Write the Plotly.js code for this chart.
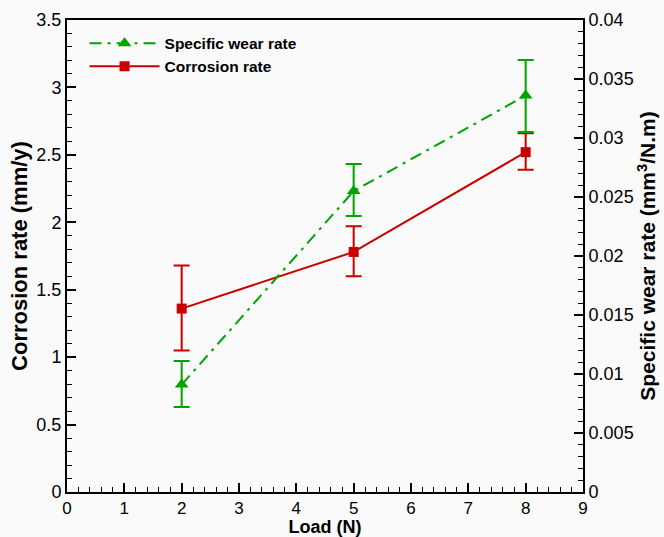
<!DOCTYPE html>
<html>
<head>
<meta charset="utf-8">
<script src="https://cdn.plot.ly/plotly-3.0.1.min.js"></script>
<style>body{margin:0;padding:0;background:#fafafa;}</style>
</head>
<body>
<div id="chart" style="width:664px;height:537px;"></div>
<script>
// Data
const load = [2, 5, 8];
const corrosionRate = [1.36, 1.78, 2.52];
const corrosionErrPlus = [0.32, 0.19, 0.14];
const corrosionErrMinus = [0.31, 0.18, 0.13];
const wearRate = [0.0091, 0.0255, 0.0336];
const wearErrPlus = [0.0020, 0.0023, 0.0030];
const wearErrMinus = [0.0019, 0.0021, 0.0031];

const green = '#00a300';
const red = '#c80000';
const fontFam = 'Liberation Sans, Arial, sans-serif';

const traces = [
  {
    x: load, y: wearRate, yaxis: 'y2', name: 'Specific wear rate',
    type: 'scatter', mode: 'lines+markers',
    line: {color: green, width: 2, dash: '12px,6px,3px,6px'},
    marker: {symbol: 'triangle-up', size: 12, color: green},
    error_y: {type: 'data', symmetric: false, array: wearErrPlus, arrayminus: wearErrMinus,
              color: green, thickness: 2, width: 8}
  },
  {
    x: load, y: corrosionRate, yaxis: 'y', name: 'Corrosion rate',
    type: 'scatter', mode: 'lines+markers',
    line: {color: red, width: 2},
    marker: {symbol: 'square', size: 10, color: red},
    error_y: {type: 'data', symmetric: false, array: corrosionErrPlus, arrayminus: corrosionErrMinus,
              color: red, thickness: 2, width: 8}
  }
];

const layout = {
  width: 664, height: 537,
  paper_bgcolor: '#fafafa', plot_bgcolor: '#fafafa',
  margin: {l: 67, r: 81, t: 20, b: 45},
  font: {family: fontFam, color: '#000', size: 18},
  showlegend: true,
  legend: {x: 0.034, y: 0.986, xanchor: 'left', yanchor: 'top', bgcolor: 'rgba(0,0,0,0)',
           font: {family: fontFam, size: 15.5, color: '#000', weight: 'bold'},
           itemwidth: 70, tracegroupgap: 0, traceorder: 'normal'},
  xaxis: {
    range: [0, 9], dtick: 1, tick0: 0,
    ticks: 'inside', ticklen: 9, tickwidth: 2, tickcolor: '#000',
    showline: true, linecolor: '#000', linewidth: 2, mirror: true,
    showgrid: false, zeroline: false,
    tickfont: {size: 17, family: fontFam},
    minor: {dtick: 0.2, ticks: 'inside', ticklen: 5, tickwidth: 1, tickcolor: '#000', showgrid: false},
    title: {text: '<b>Load (N)</b>', font: {size: 18, family: fontFam}, standoff: 6}
  },
  yaxis: {
    range: [0, 3.5], dtick: 0.5, tick0: 0,
    ticks: 'inside', ticklen: 9, tickwidth: 2, tickcolor: '#000',
    showline: true, linecolor: '#000', linewidth: 2,
    showgrid: false, zeroline: false,
    tickfont: {size: 18, family: fontFam},
    minor: {dtick: 0.1, ticks: 'inside', ticklen: 5, tickwidth: 1, tickcolor: '#000', showgrid: false},
    title: {text: '<b>Corrosion rate (mm/y)</b>', font: {size: 22, family: fontFam}, standoff: 3}
  },
  yaxis2: {
    overlaying: 'y', side: 'right',
    range: [0, 0.04], dtick: 0.005, tick0: 0,
    ticks: 'inside', ticklen: 9, tickwidth: 2, tickcolor: '#000',
    showline: true, linecolor: '#000', linewidth: 2,
    showgrid: false, zeroline: false,
    tickfont: {size: 18, family: fontFam},
    minor: {dtick: 0.001, ticks: 'inside', ticklen: 5, tickwidth: 1, tickcolor: '#000', showgrid: false},
    title: {text: '<b>Specific wear rate (mm<sup>3</sup>/N.m)</b>', font: {size: 21, family: fontFam}, standoff: 7}
  }
};

Plotly.newPlot('chart', traces, layout, {displayModeBar: false, staticPlot: true});
</script>
</body>
</html>
